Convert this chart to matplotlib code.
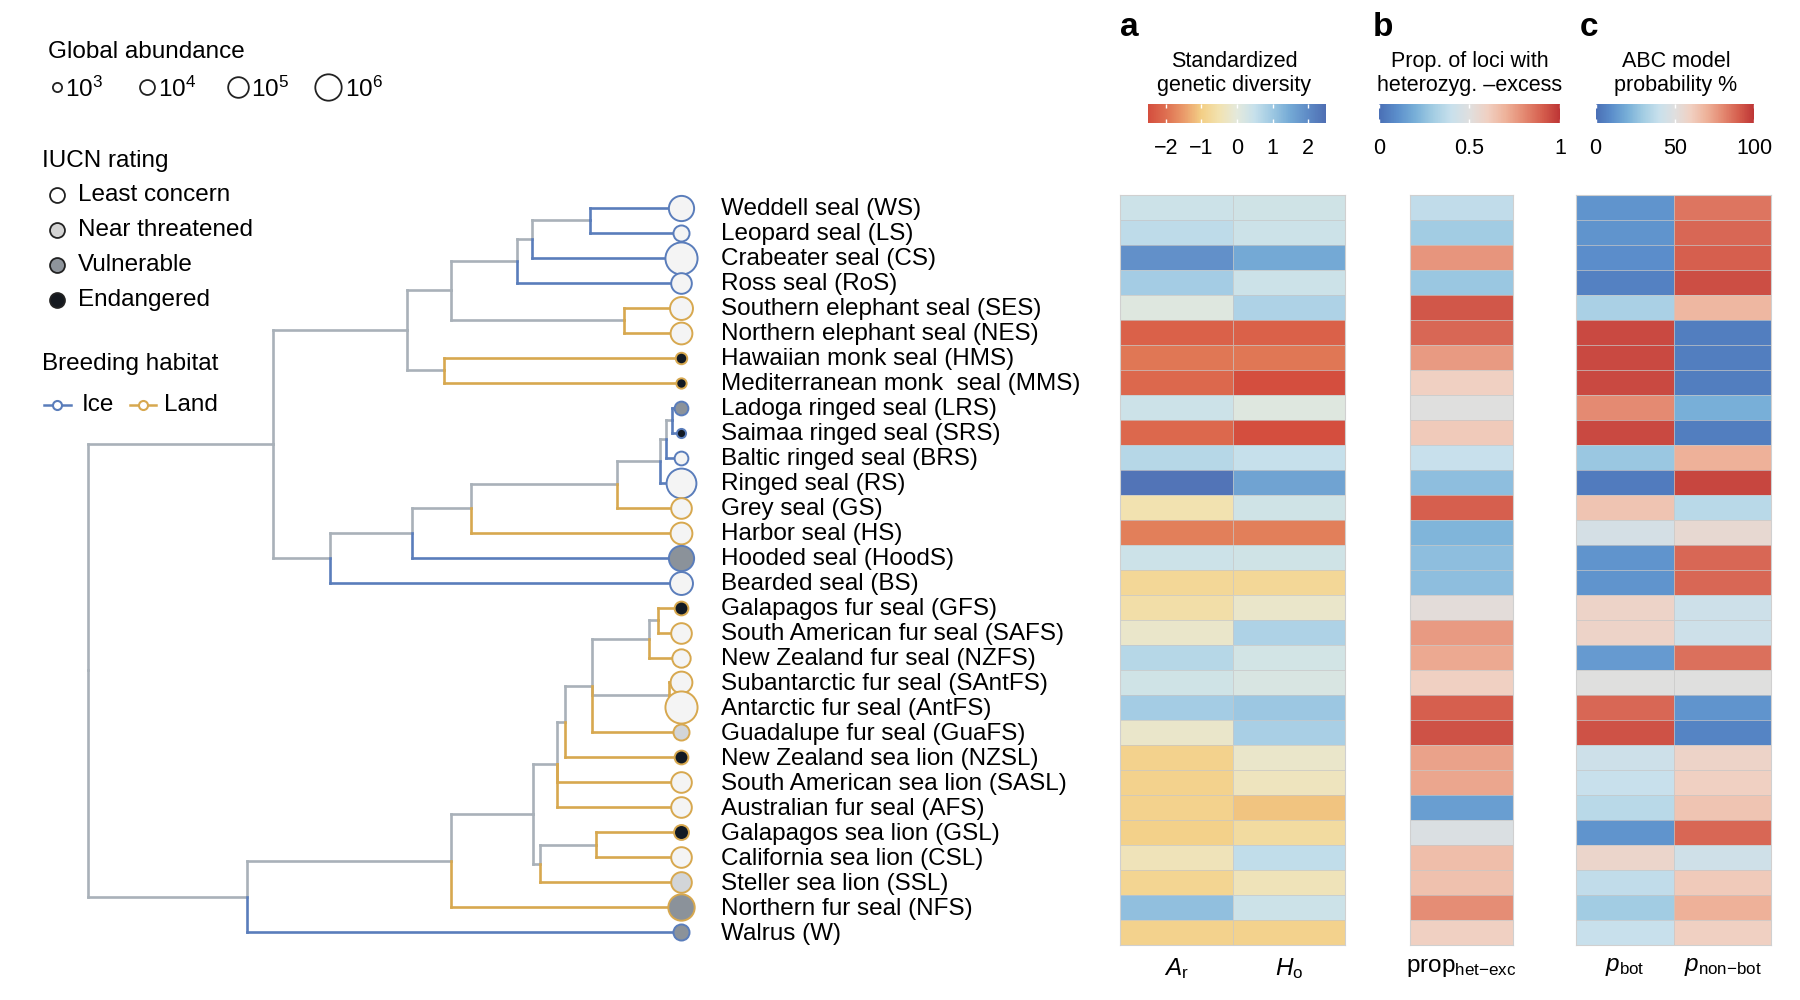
import matplotlib.pyplot as plt
import numpy as np
from matplotlib.colors import LinearSegmentedColormap, Normalize
from matplotlib.cm import ScalarMappable

plt.rcParams["font.family"] = ["Liberation Sans", "DejaVu Sans"]
plt.rcParams["mathtext.fontset"] = "custom"
plt.rcParams["mathtext.rm"] = "Liberation Sans"
plt.rcParams["mathtext.it"] = "Liberation Sans:italic"

# ---- species data (top to bottom) ----
labels = [
    "Weddell seal (WS)", "Leopard seal (LS)", "Crabeater seal (CS)", "Ross seal (RoS)",
    "Southern elephant seal (SES)", "Northern elephant seal (NES)",
    "Hawaiian monk seal (HMS)", "Mediterranean monk  seal (MMS)",
    "Ladoga ringed seal (LRS)", "Saimaa ringed seal (SRS)", "Baltic ringed seal (BRS)",
    "Ringed seal (RS)", "Grey seal (GS)", "Harbor seal (HS)", "Hooded seal (HoodS)",
    "Bearded seal (BS)", "Galapagos fur seal (GFS)", "South American fur seal (SAFS)",
    "New Zealand fur seal (NZFS)", "Subantarctic fur seal (SAntFS)",
    "Antarctic fur seal (AntFS)", "Guadalupe fur seal (GuaFS)",
    "New Zealand sea lion (NZSL)", "South American sea lion (SASL)",
    "Australian fur seal (AFS)", "Galapagos sea lion (GSL)", "California sea lion (CSL)",
    "Steller sea lion (SSL)", "Northern fur seal (NFS)", "Walrus (W)",
]
codes = ["WS", "LS", "CS", "RoS", "SES", "NES", "HMS", "MMS", "LRS", "SRS", "BRS", "RS",
         "GS", "HS", "HoodS", "BS", "GFS", "SAFS", "NZFS", "SAntFS", "AntFS", "GuaFS",
         "NZSL", "SASL", "AFS", "GSL", "CSL", "SSL", "NFS", "W"]
habitat = ["ice", "ice", "ice", "ice", "land", "land", "land", "land", "ice", "ice", "ice", "ice",
           "land", "land", "ice", "ice", "land", "land", "land", "land", "land", "land",
           "land", "land", "land", "land", "land", "land", "land", "ice"]
iucn = ["LC", "LC", "LC", "LC", "LC", "LC", "EN", "EN", "VU", "EN", "LC", "LC",
        "LC", "LC", "VU", "LC", "EN", "LC", "LC", "LC", "LC", "NT",
        "EN", "LC", "LC", "EN", "LC", "NT", "VU", "VU"]
log_abundance = [5.8, 4.2, 7.0, 5.0, 5.4, 5.2, 3.4, 3.2, 3.8, 3.0, 3.8, 6.6,
                 5.0, 5.2, 5.8, 5.4, 3.8, 5.0, 4.6, 5.2, 7.0, 4.2,
                 3.8, 5.0, 5.0, 4.0, 5.0, 5.0, 6.0, 4.2]

# ---- phylogeny: internal nodes, ages (Myr) and children ----
node_names = ["root", "phocidae", "monachinae", "lobo_mir", "lobo", "lobo3", "ws_ls",
              "mirounga", "monachus", "phocinae", "ph2", "ph3", "ph4", "ringed", "r2", "r3",
              "otw", "ot1", "ot2", "ot3", "ot4", "ot5", "ot6", "ot7", "ot8", "ot9", "ot10"]
node_ages = [26.0, 17.9, 12.0, 10.1, 7.2, 6.55, 4.0,
             2.5, 10.4, 15.4, 11.8, 9.2, 2.8, 0.9, 0.65, 0.4,
             19.05, 10.1, 6.5, 5.45, 5.1, 3.9, 1.4, 1.0, 0.5, 6.2, 3.7]
node_children = [
    ["phocidae", "otw"], ["monachinae", "phocinae"], ["lobo_mir", "monachus"],
    ["lobo", "mirounga"], ["lobo3", "RoS"], ["ws_ls", "CS"], ["WS", "LS"],
    ["SES", "NES"], ["HMS", "MMS"], ["ph2", "BS"], ["ph3", "HoodS"], ["ph4", "HS"],
    ["ringed", "GS"], ["r2", "RS"], ["r3", "BRS"], ["LRS", "SRS"],
    ["ot1", "W"], ["ot2", "NFS"], ["ot3", "ot9"], ["ot4", "SASL", "AFS"],
    ["ot5", "NZSL"], ["ot6", "ot8", "GuaFS"], ["ot7", "NZFS"], ["GFS", "SAFS"],
    ["SAntFS", "AntFS"], ["ot10", "SSL"], ["GSL", "CSL"],
]

# ---- heatmap values ----
A_r = [0.4, 0.6, 1.9, 0.9, 0.1, -2.2, -1.9, -2.1, 0.4, -2.1, 0.7, 2.4,
       -0.5, -1.8, 0.4, -0.8, -0.6, -0.2, 0.7, 0.35, 0.9, -0.2,
       -0.9, -0.9, -0.9, -0.95, -0.4, -0.85, 1.15, -0.9]
H_o = [0.35, 0.4, 1.5, 0.4, 0.8, -2.2, -1.9, -2.5, 0.1, -2.5, 0.5, 1.6,
       0.35, -1.8, 0.35, -0.8, -0.2, 0.8, 0.3, 0.2, 1.0, 0.85,
       -0.2, -0.35, -1.1, -0.7, 0.55, -0.4, 0.4, -0.9]
prop_het_exc = [0.38, 0.3, 0.77, 0.28, 0.92, 0.88, 0.76, 0.6, 0.5, 0.62, 0.4, 0.25,
                0.9, 0.22, 0.25, 0.25, 0.52, 0.76, 0.72, 0.6, 0.9, 0.93,
                0.74, 0.73, 0.15, 0.48, 0.66, 0.65, 0.79, 0.6]
p_bot = [12, 12, 10, 6, 32, 95, 95, 95, 80, 95, 28, 4,
         64, 45, 12, 12, 58, 58, 14, 50, 88, 93,
         42, 40, 36, 12, 57, 38, 30, 40]
p_non_bot = [85, 88, 90, 94, 68, 5, 5, 5, 20, 5, 70, 96,
             36, 55, 88, 88, 42, 42, 86, 50, 12, 7,
             58, 60, 64, 88, 43, 62, 70, 60]

ICE = "#5a7dbb"
LAND = "#d7a84f"
GRAY = "#a9b1b9"
IUCN_FILL = {"LC": "#f4f4f4", "NT": "#d2d5d8", "VU": "#8b929a", "EN": "#121a24"}

div_cmap = LinearSegmentedColormap.from_list("div", [
    "#d44e3e", "#de6f51", "#ea9a6a", "#f3cf86", "#f2e2b0", "#e4e9dc",
    "#c6e0eb", "#9dc8e2", "#74a9d5", "#5e8bc6", "#4f6fb3"])
rb_cmap = LinearSegmentedColormap.from_list("rb", [
    "#4a6fb5", "#5b8ecb", "#78afd8", "#a3cde3", "#c8e0ec", "#dfdfdf",
    "#f0d0c2", "#eeb29a", "#e48a72", "#d6604f", "#bd3535"])

W, H = 1568.0, 871.0  # layout frame


def fx(x):
    return x / W


def fy(y):
    return 1 - y / H


def radius(L):
    return 4 + 2.5 * (L - 3)  # frame px


def pt(r):
    return r * 0.826


fig = plt.figure(figsize=(18, 10), dpi=100)

# overlay for legend and titles
ov = fig.add_axes([0, 0, 1, 1])
ov.set_xlim(0, W)
ov.set_ylim(H, 0)
ov.axis("off")

# ---- tree ----
heat_bottom, heat_top = 823, 170
tax = fig.add_axes([fx(15.6), fy(heat_bottom), fx(624 - 15.6), (heat_bottom - heat_top) / H])
tax.set_xlim(29.09, -1.56)
tax.set_ylim(29.5, -0.5)
tax.axis("off")

leaf_y = {c: i for i, c in enumerate(codes)}
age = dict(zip(node_names, node_ages))
age.update({c: 0.0 for c in codes})
children = dict(zip(node_names, node_children))
hab = dict(zip(codes, habitat))


def node_y(n):
    if n in leaf_y:
        return leaf_y[n]
    ys = [node_y(c) for c in children[n]]
    return (ys[0] + ys[-1]) / 2


def branch_color(c):
    if c in leaf_y:
        return ICE if hab[c] == "ice" else LAND
    return GRAY


for n in node_names:
    x, y = age[n], node_y(n)
    for c in children[n]:
        cy = node_y(c)
        col = branch_color(c)
        tax.plot([x, x], [y, cy], color=col, lw=1.9, solid_capstyle="projecting")
        tax.plot([x, age[c]], [cy, cy], color=col, lw=1.9, solid_capstyle="projecting")

for i, c in enumerate(codes):
    r = pt(radius(log_abundance[i]))
    tax.scatter(0, i, s=(2 * r) ** 2, facecolor=IUCN_FILL[iucn[i]],
                edgecolor=branch_color(c), linewidth=1.4, zorder=3, clip_on=False)
    tax.annotate(labels[i], xy=(0, i + 0.05), xytext=(29, 0), textcoords="offset points",
                 va="center", ha="left", fontsize=17.5, annotation_clip=False)

# ---- legend ----
FS = 17.5
ov.text(42, 45, "Global abundance", fontsize=FS, va="center", ha="left")
for L, cx in zip([3, 4, 5, 6], [50, 128, 207, 286]):
    r = radius(L)
    ov.scatter(cx, 76, s=(2 * pt(r)) ** 2, facecolor="white", edgecolor="#222222", linewidth=1.3)
    ov.text(cx + r + 3, 78, "10$^{%d}$" % L, fontsize=FS, va="center", ha="left")

ov.text(37, 140, "IUCN rating", fontsize=FS, va="center", ha="left")
iucn_names = ["Least concern", "Near threatened", "Vulnerable", "Endangered"]
iucn_keys = ["LC", "NT", "VU", "EN"]
legend_fill = {"LC": "white", "NT": "#d3d3d3", "VU": "#8e949b", "EN": "#15191f"}
for k, name, yy in zip(iucn_keys, iucn_names, [170, 200, 231, 261]):
    ov.scatter(50, yy, s=(2 * pt(6.5)) ** 2, facecolor=legend_fill[k], edgecolor="#222222", linewidth=1.3)
    ov.text(68, yy, name, fontsize=FS, va="center", ha="left")

ov.text(37, 317, "Breeding habitat", fontsize=FS, va="center", ha="left")
ov.plot([38, 62], [353, 353], color=ICE, lw=1.8)
ov.plot(50, 353, marker="o", ms=6.5, mfc="white", mec=ICE, mew=1.5)
ov.text(71, 353, "Ice", fontsize=FS, va="center", ha="left")
ov.plot([113, 136], [353, 353], color=LAND, lw=1.8)
ov.plot(124.5, 353, marker="o", ms=6.5, mfc="white", mec=LAND, mew=1.5)
ov.text(143, 353, "Land", fontsize=FS, va="center", ha="left")

# ---- heatmaps ----
def heat(x0, x1, cols, cmap, vmin, vmax, xlabels):
    ax = fig.add_axes([fx(x0), fy(heat_bottom), fx(x1 - x0), (heat_bottom - heat_top) / H])
    mat = np.column_stack(cols)
    ax.pcolormesh(np.arange(mat.shape[1] + 1), np.arange(mat.shape[0] + 1), mat,
                  cmap=cmap, vmin=vmin, vmax=vmax,
                  edgecolors=(0.78, 0.78, 0.78, 0.7), linewidth=0.6)
    ax.set_xlim(0, mat.shape[1])
    ax.set_ylim(mat.shape[0], 0)
    ax.set_yticks([])
    ax.set_xticks(np.arange(mat.shape[1]) + 0.5)
    ax.set_xticklabels(xlabels, fontsize=17.5)
    ax.tick_params(axis="x", length=0, pad=8)
    for s in ax.spines.values():
        s.set_color("#d0d0d0")
        s.set_linewidth(0.8)
    return ax


heat(976, 1172, [A_r, H_o], div_cmap, -2.5, 2.5, [r"$A_\mathrm{r}$", r"$H_\mathrm{o}$"])
heat(1228, 1318, [prop_het_exc], rb_cmap, 0, 1, [r"prop$_\mathrm{het{-}exc}$"])
heat(1373, 1543, [p_bot, p_non_bot], rb_cmap, 0, 100,
     [r"$p_\mathrm{bot}$", r"$p_\mathrm{non{-}bot}$"])

# ---- colour bars ----
def cbar(x0, x1, cmap, vmin, vmax, ticks, ticklabels):
    cax = fig.add_axes([fx(x0), fy(107), fx(x1 - x0), 16 / H])
    cb = fig.colorbar(ScalarMappable(Normalize(vmin, vmax), cmap), cax=cax, orientation="horizontal")
    cb.outline.set_visible(False)
    cb.set_ticks(ticks)
    cb.set_ticklabels(ticklabels)
    cax.xaxis.set_ticks_position("both")
    cax.tick_params(axis="x", color="white", direction="in", length=3, width=1,
                    labelsize=15.5, pad=11, labeltop=False)


cbar(1000, 1155, div_cmap, -2.5, 2.5, [-2, -1, 0, 1, 2], ["\u22122", "\u22121", "0", "1", "2"])
cbar(1201, 1359, rb_cmap, 0, 1, [0, 0.5, 1], ["0", "0.5", "1"])
cbar(1390, 1528, rb_cmap, 0, 100, [0, 50, 100], ["0", "50", "100"])

for xc, title in zip([1075, 1280, 1460],
                     ["Standardized\ngenetic diversity", "Prop. of loci with\nheterozyg. \u2013excess",
                      "ABC model\nprobability %"]):
    ov.text(xc, 64, title, fontsize=15.5, ha="center", va="center", linespacing=1.15)

for xc, letter in zip([984, 1205, 1384], ["a", "b", "c"]):
    ov.text(xc, 24, letter, fontsize=24, fontweight="bold", ha="center", va="center")

fig.savefig("out.png", dpi=100)
